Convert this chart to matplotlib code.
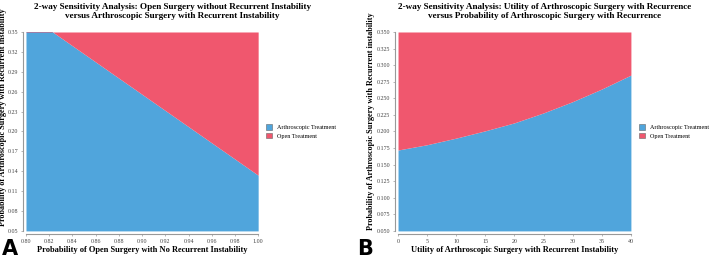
import numpy as np
import matplotlib as mpl
from matplotlib import pyplot as plt
from matplotlib.patches import Patch

# panel A: threshold probability of arthroscopic recurrence vs open-surgery success
open_prob = [0.80, 0.85, 0.90, 0.95, 1.00]
thresh_a = [0.378, 0.317, 0.256, 0.195, 0.134]
xticks_a = [0.80, 0.82, 0.84, 0.86, 0.88, 0.90, 0.92, 0.94, 0.96, 0.98, 1.00]
yticks_a = [0.05, 0.08, 0.11, 0.14, 0.17, 0.20, 0.23, 0.26, 0.29, 0.32, 0.35]

# panel B: threshold vs utility of arthroscopic surgery with recurrence
utility = [0, 5, 10, 15, 20, 25, 30, 35, 40]
thresh_b = [0.172, 0.180, 0.190, 0.201, 0.213, 0.228, 0.245, 0.264, 0.285]
xticks_b = [0, 5, 10, 15, 20, 25, 30, 35, 40]
yticks_b = [0.050, 0.075, 0.100, 0.125, 0.150, 0.175, 0.200, 0.225, 0.250, 0.275, 0.300, 0.325, 0.350]

labels = ['Arthroscopic Treatment', 'Open Treatment']
blue = '#50a5dc'
red = '#f0576e'

mpl.rc('font', family='serif', serif=['Liberation Serif', 'DejaVu Serif'])

fig = plt.figure(figsize=(7.1, 2.58), dpi=100)
ax1 = fig.add_axes([0.0366, 0.105, 0.327, 0.771])
ax2 = fig.add_axes([0.5606, 0.105, 0.328, 0.771])


def draw(ax, x, thr, ylo, yhi, xticks, yticks, xfmt, yfmt):
    ax.fill_between(x, ylo, thr, color=blue, lw=0)
    ax.fill_between(x, thr, yhi, color=red, lw=0)
    ax.set_xlim(x[0], x[-1])
    ax.set_ylim(ylo, yhi)
    ax.set_xticks(xticks)
    ax.set_yticks(yticks)
    ax.set_xticklabels([xfmt.format(v) for v in xticks])
    ax.set_yticklabels([yfmt.format(v) for v in yticks])
    ax.tick_params(labelsize=4.3, length=1.5, width=0.5, color='#999999', pad=1.5,
                   labelcolor='#444444')
    for s in ('top', 'right'):
        ax.spines[s].set_visible(False)
    for s in ('left', 'bottom'):
        ax.spines[s].set_position(('outward', 2.5))
        ax.spines[s].set_color('#999999')
        ax.spines[s].set_linewidth(0.8)
    ax.legend(handles=[Patch(facecolor=blue, edgecolor='#666666', lw=0.4),
                       Patch(facecolor=red, edgecolor='#666666', lw=0.4)],
              labels=labels, loc='center left', bbox_to_anchor=(1.01, 0.5),
              frameon=False, fontsize=4.4, handlelength=1.0, handleheight=1.0,
              handletextpad=0.8, labelspacing=0.5)


draw(ax1, open_prob, thresh_a, 0.05, 0.35, xticks_a, yticks_a, '{:.2f}', '{:.2f}')
draw(ax2, utility, thresh_b, 0.05, 0.35, xticks_b, yticks_b, '{:d}', '{:.3f}')

ax1.set_title('2-way Sensitivity Analysis: Open Surgery without Recurrent Instability\n'
              'versus Arthroscopic Surgery with Recurrent Instability',
              fontsize=6.6, fontweight='bold', x=0.63, pad=10, linespacing=1.2)
ax2.set_title('2-way Sensitivity Analysis: Utility of Arthroscopic Surgery with Recurrence\n'
              'versus Probability of Arthroscopic Surgery with Recurrence',
              fontsize=6.6, fontweight='bold', x=0.63, pad=10, linespacing=1.2)

ax1.set_xlabel('Probability of Open Surgery with No Recurrent Instability',
               fontsize=6.0, fontweight='bold', labelpad=2)
ax2.set_xlabel('Utility of Arthroscopic Surgery with Recurrent Instability',
               fontsize=6.0, fontweight='bold', labelpad=2)
ax1.set_ylabel('Probability of Arthroscopic Surgery with Recurrent instability',
               fontsize=5.9, fontweight='bold')
ax2.set_ylabel('Probability of Arthroscopic Surgery with Recurrent instability',
               fontsize=5.9, fontweight='bold')
ax1.yaxis.set_label_coords(-0.082, 0.57)
ax2.yaxis.set_label_coords(-0.098, 0.55)

fig.text(0.003, 0.012, 'A', fontsize=15, fontweight='bold', family='DejaVu Sans')
fig.text(0.503, 0.012, 'B', fontsize=15, fontweight='bold', family='DejaVu Sans')

plt.savefig('out.png', dpi=100)
